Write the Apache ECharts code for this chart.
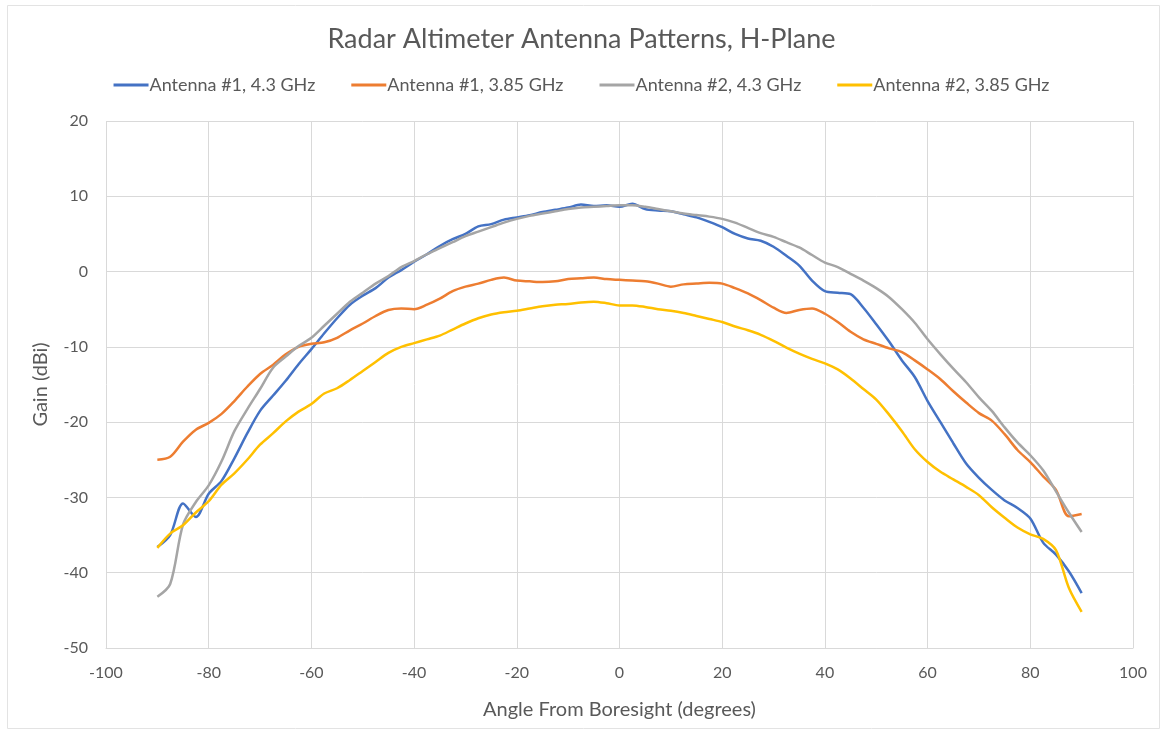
<!DOCTYPE html>
<html>
<head>
<meta charset="utf-8">
<script src="https://cdn.jsdelivr.net/npm/echarts@6/dist/echarts.min.js"></script>
<style>
  html, body { margin: 0; padding: 0; background: #fff; }
  #main { width: 1163px; height: 735px; }
</style>
</head>
<body>
<div id="main"></div>
<script>
// angle from boresight, degrees (step 2.5)
const angles = [];
for (let a = -90; a <= 90; a += 2.5) angles.push(a);

// Antenna #1, 4.3 GHz
const ant1_43 = [
  -36.6, -35.0, -30.8, -32.6, -29.5, -27.8, -24.8, -21.5, -18.5, -16.5,
  -14.5, -12.3, -10.3, -8.2, -6.2, -4.4, -3.2, -2.2, -0.8, 0.2,
  1.3, 2.3, 3.4, 4.3, 5.0, 6.0, 6.3, 6.9, 7.2, 7.5,
  7.9, 8.2, 8.5, 8.9, 8.7, 8.8, 8.6, 9.0, 8.3, 8.1,
  8.0, 7.6, 7.2, 6.6, 5.9, 5.0, 4.4, 4.1, 3.3, 2.1,
  0.8, -1.2, -2.6, -2.8, -3.0, -4.8, -7.0, -9.3, -11.8, -14.0,
  -17.2, -20.0, -22.8, -25.5, -27.4, -29.0, -30.4, -31.4, -32.8, -36.0,
  -37.6, -39.8, -42.7
];
// Antenna #1, 3.85 GHz
const ant1_385 = [
  -25.0, -24.6, -22.6, -21.0, -20.1, -18.9, -17.2, -15.3, -13.6, -12.4,
  -11.0, -10.0, -9.6, -9.4, -8.8, -7.8, -6.9, -5.9, -5.1, -4.9,
  -5.0, -4.4, -3.6, -2.6, -2.0, -1.6, -1.1, -0.8, -1.2, -1.3,
  -1.4, -1.3, -1.0, -0.9, -0.8, -1.0, -1.1, -1.2, -1.3, -1.6,
  -2.0, -1.7, -1.6, -1.5, -1.6, -2.2, -2.9, -3.8, -4.8, -5.5,
  -5.1, -4.9, -5.6, -6.7, -8.0, -9.0, -9.6, -10.2, -10.7, -11.8,
  -13.0, -14.3, -15.9, -17.4, -18.8, -19.8, -21.6, -23.7, -25.3, -27.2,
  -29.0, -32.5, -32.2
];
// Antenna #2, 4.3 GHz
const ant2_43 = [
  -43.2, -41.5, -33.6, -30.6, -28.4, -25.2, -21.2, -18.3, -15.6, -12.8,
  -11.3, -9.9, -8.8, -7.2, -5.6, -4.0, -2.8, -1.6, -0.6, 0.6,
  1.4, 2.3, 3.1, 3.9, 4.7, 5.3, 5.9, 6.5, 7.0, 7.4,
  7.7, 8.0, 8.3, 8.5, 8.6, 8.7, 8.8, 8.8, 8.6, 8.3,
  8.0, 7.7, 7.5, 7.3, 7.0, 6.5, 5.8, 5.1, 4.6, 3.9,
  3.2, 2.2, 1.2, 0.6, -0.3, -1.2, -2.2, -3.4, -5.0, -6.8,
  -9.0, -11.0, -12.9, -14.7, -16.7, -18.5, -20.7, -22.7, -24.4, -26.4,
  -29.2, -32.0, -34.6
];
// Antenna #2, 3.85 GHz
const ant2_385 = [
  -36.7, -34.8, -33.7, -32.0, -30.5, -28.3, -26.8, -25.0, -23.0, -21.5,
  -19.9, -18.6, -17.6, -16.2, -15.5, -14.4, -13.2, -12.0, -10.8, -10.0,
  -9.5, -9.0, -8.5, -7.7, -6.9, -6.2, -5.7, -5.4, -5.2, -4.9,
  -4.6, -4.4, -4.3, -4.1, -4.0, -4.2, -4.5, -4.5, -4.7, -5.0,
  -5.2, -5.5, -5.9, -6.3, -6.7, -7.3, -7.8, -8.4, -9.2, -10.1,
  -10.9, -11.6, -12.2, -13.0, -14.2, -15.6, -17.0, -19.0, -21.2, -23.6,
  -25.3, -26.6, -27.6, -28.6, -29.7, -31.3, -32.7, -34.0, -34.9, -35.5,
  -37.0, -42.0, -45.2
];

const seriesNames = ['Antenna #1, 4.3 GHz', 'Antenna #1, 3.85 GHz', 'Antenna #2, 4.3 GHz', 'Antenna #2, 3.85 GHz'];
const seriesValues = [ant1_43, ant1_385, ant2_43, ant2_385];
const colors = ['#4472C4', '#ED7D31', '#A5A5A5', '#FFC000'];

const FONT = 'Lato';
const TXT = '#595959';

var chart = echarts.init(document.getElementById('main'));

var option = {
  animation: false,
  backgroundColor: '#fff',
  color: colors,
  textStyle: { fontFamily: FONT },
  graphic: [{
    type: 'rect',
    shape: { x: 7.5, y: 5.5, width: 1152, height: 723 },
    style: { fill: null, stroke: '#e3e3e3', lineWidth: 1 },
    silent: true
  }],
  title: {
    text: 'Radar Altimeter Antenna Patterns, H-Plane',
    left: 'center',
    top: 21,
    textStyle: { fontFamily: FONT, fontSize: 27, fontWeight: 'normal', color: TXT }
  },
  legend: {
    top: 71,
    left: 'center',
    itemWidth: 35,
    itemHeight: 3,
    itemGap: 36,
    icon: 'rect',
    textStyle: { fontFamily: FONT, fontSize: 18, color: TXT, padding: [0, 0, 0, -4] },
    data: seriesNames
  },
  grid: { left: 106, right: 30, top: 121, bottom: 87 },
  xAxis: {
    type: 'value',
    min: -100, max: 100, interval: 20,
    name: 'Angle From Boresight (degrees)',
    nameLocation: 'middle',
    nameGap: 52,
    nameTextStyle: { fontFamily: FONT, fontSize: 20, color: TXT },
    axisLine: { show: true, onZero: false, lineStyle: { color: '#d9d9d9' } },
    axisTick: { show: false },
    axisLabel: { fontFamily: FONT, fontSize: 16, color: TXT, margin: 17 },
    splitLine: { show: true, lineStyle: { color: '#d9d9d9', width: 1 } }
  },
  yAxis: {
    type: 'value',
    min: -50, max: 20, interval: 10,
    name: 'Gain (dBi)',
    nameLocation: 'middle',
    nameGap: 55,
    nameTextStyle: { fontFamily: FONT, fontSize: 20, color: TXT },
    axisLine: { show: false },
    axisTick: { show: false },
    axisLabel: { fontFamily: FONT, fontSize: 16, color: TXT, margin: 18 },
    splitLine: { show: true, lineStyle: { color: '#d9d9d9', width: 1 } }
  },
  series: seriesNames.map(function (name, i) {
    return {
      name: name,
      type: 'line',
      showSymbol: false,
      smooth: 0.3,
      lineStyle: { width: 2.5, color: colors[i] },
      itemStyle: { color: colors[i] },
      data: angles.map(function (a, k) { return [a, seriesValues[i][k]]; })
    };
  })
};

chart.setOption(option);
</script>
</body>
</html>
